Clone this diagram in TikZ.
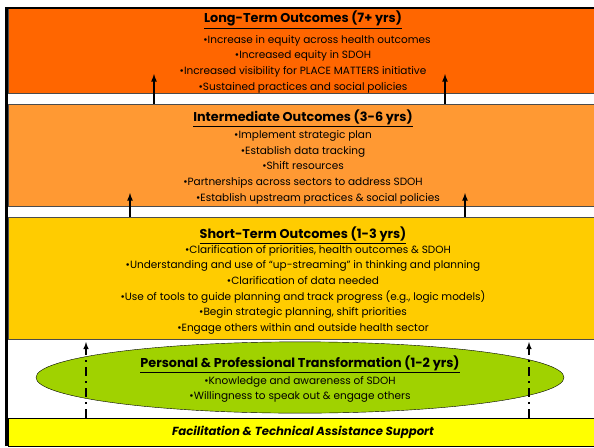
\documentclass[tikz,border=0pt]{standalone}
\usepackage{fontspec}
\setmainfont{Poppins}
\usetikzlibrary{shapes.geometric}

\definecolor{longorange}{HTML}{FF6600}
\definecolor{midorange}{HTML}{FF9933}
\definecolor{shortgold}{HTML}{FFCC00}
\definecolor{leafgreen}{HTML}{A0D200}
\definecolor{baseyellow}{HTML}{FFFF00}

% title line of a band, with a strut that sets its height
\newcommand{\bandhead}[2][15.6]{\rule{0pt}{#1pt}{\fontsize{12.8}{14}\selectfont\bfseries\underline{#2}}}

\begin{document}
\begin{tikzpicture}[
			x=1pt, y=-1pt,
			>=latex,
			band/.style={
					rectangle,
					draw=black!70,
					thin,
					minimum width=590pt,
					inner sep=0pt,
					align=center,
					font=\fontsize{10.5}{15.7}\selectfont
				},
			longband/.style={band, fill=longorange},
			midband/.style={band, fill=midorange},
			shortband/.style={band, fill=shortgold},
			baseband/.style={band, fill=baseyellow, draw=black},
			growth/.style={
					ellipse,
					draw=black,
					fill=leafgreen,
					inner sep=0pt,
					minimum width=528pt,
					minimum height=66pt,
					align=center,
					font=\fontsize{10.5}{15}\selectfont
				},
			uparrow/.style={->, line width=1.6pt},
			dasharrow/.style={->, line width=1.4pt, dash pattern=on 9pt off 5pt on 2pt off 5pt}
		]
		\useasboundingbox (0,0) rectangle (594,447);

		% Nodes
		\node[longband, minimum height=86pt] (long) at (303,50) {\bandhead[16]{Long-Term Outcomes (7+ yrs)}\\[4.5pt]
			\hspace*{28pt}•Increase in equity across health outcomes\\
			•Increased equity in SDOH\\
			•Increased visibility for PLACE MATTERS initiative\\
			•Sustained practices and social policies};
		\node[midband, minimum height=102pt] (mid) at (303,155) {\bandhead{Intermediate Outcomes (3-6 yrs)}\\[1pt]
			•Implement strategic plan\\
			•Establish data tracking\\
			•Shift resources\\
			•Partnerships across sectors to address SDOH\\
			\hspace*{30pt}•Establish upstream practices \& social policies};
		\node[shortband, minimum height=122pt] (short) at (303,278) {\bandhead[17]{Short-Term Outcomes (1-3 yrs)}\\[-1pt]
			\hspace*{30pt}•Clarification of priorities, health outcomes \& SDOH\\
			•Understanding and use of “up-streaming” in thinking and planning\\
			•Clarification of data needed\\
			•Use of tools to guide planning and track progress (e.g., logic models)\\
			•Begin strategic planning, shift priorities\\
			•Engage others within and outside health sector};
		\node[baseband, minimum height=28pt, font=\fontsize{11.7}{14}\selectfont\bfseries\itshape] (base) at (303,432) {Facilitation \& Technical Assistance Support};
		\node[growth] (personal) at (300,377.5) {\bandhead{Personal \& Professional Transformation (1-2 yrs)}\\[2pt]
			•Knowledge and awareness of SDOH\\
			•Willingness to speak out \& engage others};

		% Frame
		\draw[line width=2.5pt] ([xshift=-1.25pt]base.south west) |- ([yshift=-1.25pt]long.north east);

		% Arrows
		\coordinate (longL) at (154,74);
		\coordinate (longR) at (445,74);
		\coordinate (midL) at (130,193);
		\coordinate (midR) at (465,193);
		\coordinate (shortL) at (86,342);
		\coordinate (shortR) at (529,342);
		\draw[uparrow] (longL |- mid.north) -- (longL);
		\draw[uparrow] (longR |- mid.north) -- (longR);
		\draw[uparrow] (midL |- short.north) -- (midL);
		\draw[uparrow] (midR |- short.north) -- (midR);
		\draw[dasharrow] (shortL |- base.north) -- (shortL);
		\draw[dasharrow] (shortR |- base.north) -- (shortR);

	\end{tikzpicture}
\end{document}
